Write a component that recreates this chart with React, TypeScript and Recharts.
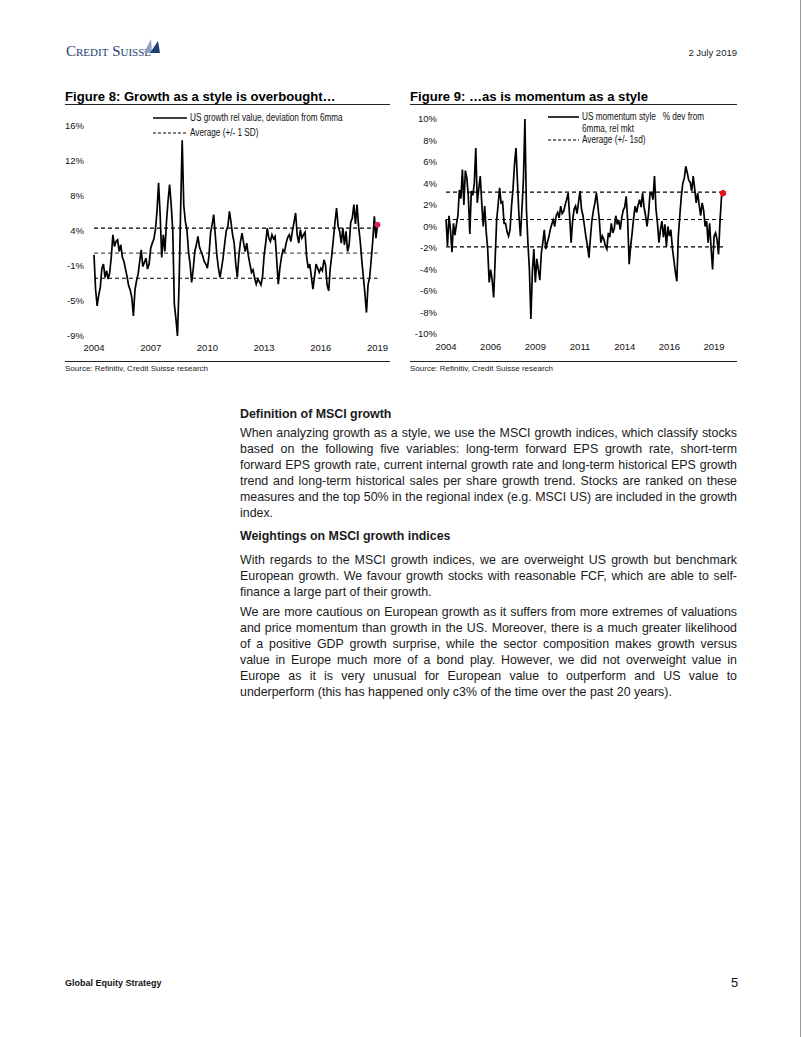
import React from 'react';
import { LineChart, Line, XAxis, YAxis, ReferenceLine, ReferenceDot } from 'recharts';

// Figure 8: US growth rel value, deviation from 6mma (monthly, from Jan 2004)
const growthStart = 2004;
const growthRel = [
  0.6, -3.5, -5.5, -4.2, -3.3, -1.0, -0.5, -2.1, -1.3, -2.3, -1.5, 0.4, // 2004
  3.0, 1.6, 2.2, 2.4, 1.0, 1.8, 0.3, -0.2, -1.1, -2.0, -3.1, -3.6, // 2005
  -4.5, -6.7, -3.6, -2.5, -1.7, -0.2, 1.2, -0.8, -0.3, 0.2, -1.1, -0.5, // 2006
  1.4, 2.0, 2.5, 3.6, 5.8, 9.2, 5.4, 0.3, 3.0, 1.0, 4.5, 7.0, // 2007
  9.0, 6.6, 3.5, -5.3, -7.0, -9.1, -3.0, 6.0, 14.3, 6.5, 4.6, 3.6, // 2008
  1.0, -0.5, -2.7, -1.1, 1.0, 1.8, 2.8, 1.5, 1.0, 0.5, -0.2, -0.5, // 2009
  -1.0, 0.5, 3.2, 4.2, 5.4, 3.0, 0.6, -1.0, -2.1, -1.0, 0.3, 2.0, // 2010
  3.5, 4.0, 5.8, 4.5, 3.0, 2.0, -0.5, -2.1, 0.5, 2.2, 3.2, 2.0, // 2011
  1.0, 2.0, 0.5, -0.5, -1.5, -1.2, -2.2, -2.9, -2.3, -2.6, -3.0, -2.0, // 2012
  0.5, 2.0, 3.8, 2.6, 2.2, 3.0, 2.5, 2.8, 0.0, -2.9, -1.0, 0.3, // 2013
  1.2, 1.0, 2.0, 2.7, 3.0, 2.2, 3.5, 4.5, 5.6, 3.0, 2.0, 3.6, // 2014
  2.6, 3.0, 3.3, 0.4, -1.0, -0.5, -2.0, -3.5, -2.0, -0.5, -1.0, -1.5, // 2015
  -1.0, -1.3, 0.0, -0.6, -3.0, -3.7, -1.0, 0.6, 2.5, 4.5, 6.2, 4.0, // 2016
  3.4, 2.0, 3.8, 1.8, 3.4, 1.0, 1.8, 4.5, 5.0, 6.6, 4.3, 6.6, // 2017
  4.0, 2.3, 0.0, -2.0, -4.0, -6.3, -3.0, -2.1, 0.0, 2.3, 5.2, 2.6, // 2018
  4.2, // 2019
];
const growthBands = [3.8, 0.8, -2.2]; // +1 SD, average, -1 SD
const growthXTicks = [2004, 2007, 2010, 2013, 2016, 2019];
const growthYTicks = [16, 11.83, 7.67, 3.5, -0.67, -4.83, -9];
const growthYLabels = ['16%', '12%', '8%', '4%', '-1%', '-5%', '-9%'];

// Figure 9: US momentum style % dev from 6mma, rel mkt (monthly, from Jan 2004)
const momentumStart = 2004;
const momentumRel = [
  0.65, -1.8, 1.0, -0.3, -2.4, 0.3, -0.8, 0.2, 1.0, 3.4, 2.6, 5.3, // 2004
  2.0, 5.2, 4.5, 2.8, -0.7, 3.3, 2.9, 4.0, 7.3, 2.2, 3.5, 4.7, // 2005
  2.2, 0.0, 1.9, -0.5, -2.1, -5.2, -4.0, -5.0, -6.6, -3.1, 0.6, 2.0, // 2006
  3.6, 2.2, 2.3, 0.3, 0.3, -0.5, -0.9, -0.3, 1.9, 3.5, 5.8, 7.3, // 2007
  4.1, 1.0, -0.9, 1.6, 4.4, 10.0, 1.6, -1.5, -4.0, -8.6, -4.2, -2.1, // 2008
  -5.2, -3.0, -4.0, -5.0, -2.5, -1.5, -0.3, -2.1, -1.5, -1.0, -0.3, 0.2, // 2009
  0.6, 0.0, 1.0, 1.3, 0.8, 1.9, 1.2, 1.4, 2.0, 2.5, 3.1, 1.0, // 2010
  -1.5, 0.5, 1.6, 1.9, 1.2, 2.3, 3.3, 1.6, 1.0, 0.0, -1.0, -1.8, // 2011
  -2.9, -1.0, 0.6, 1.5, 2.2, 3.1, 1.9, 0.5, -1.5, -0.9, -1.2, -1.8, // 2012
  -2.1, -0.6, -1.0, 0.3, -0.6, -0.2, 1.0, 0.2, 0.6, -0.3, 0.8, 1.5, // 2013
  1.8, 2.8, 0.5, -3.5, -1.8, -0.6, 0.8, 1.9, 1.3, 2.0, 2.5, 1.8, // 2014
  3.1, 1.8, 1.0, 0.0, 1.2, 3.1, 3.1, 2.5, 4.7, 1.6, 0.3, -1.5, // 2015
  -0.3, 0.5, -1.0, 0.2, -1.9, 0.0, -0.9, -0.3, -2.0, -3.1, -4.2, -5.1, // 2016
  -0.9, 1.0, 2.8, 4.0, 4.5, 5.6, 5.0, 4.3, 4.1, 3.3, 4.7, 3.5, // 2017
  2.2, 3.1, 2.0, 1.0, 2.2, 1.5, 0.0, 0.5, -1.5, 0.3, -2.0, -4.0, // 2018
  -0.9, -0.6, -1.2, -2.6, 0.5, 2.8, 3.1, // 2019
];
const momentumBands = [3.2, 0.65, -1.9];
const momentumXTicks = [2004, 2006.5, 2009, 2011.5, 2014, 2016.5, 2019];
const momentumXLabels = ['2004', '2006', '2009', '2011', '2014', '2016', '2019'];
const momentumYTicks = [10, 8, 6, 4, 2, 0, -2, -4, -6, -8, -10];

const FONT = '"Liberation Sans", Arial, Helvetica, sans-serif';
const tickStyle = { fontSize: 9.5, fill: '#111', fontFamily: FONT };

const toRows = (start: number, vals: number[]) =>
  vals.map((v, i) => ({ t: start + i / 12, v }));

const growthRows = toRows(growthStart, growthRel);
const momentumRows = toRows(momentumStart, momentumRel);

const Rule = ({ left, top, width }: { left: number; top: number; width: number }) => (
  <div style={{ position: 'absolute', left, top, width, height: 1, background: '#222' }} />
);

const LegendLine = ({ dashed, w }: { dashed?: boolean; w: number }) => (
  <svg width={w} height={6} style={{ verticalAlign: 'middle', marginRight: 3 }}>
    <line x1={0} x2={w} y1={3} y2={3} stroke="#000" strokeWidth={dashed ? 1.2 : 1.6}
      strokeDasharray={dashed ? '3 2' : undefined} />
  </svg>
);

// the original legend uses a condensed face: squeeze the text horizontally
const Narrow = ({ children }: { children: React.ReactNode }) => (
  <span style={{ display: 'inline-block', transform: 'scaleX(0.82)', transformOrigin: 'left center' }}>{children}</span>
);

const legendText: React.CSSProperties = {
  position: 'absolute', fontFamily: FONT, fontSize: 10, color: '#111', whiteSpace: 'nowrap', lineHeight: '11px',
};

const GrowthChart = () => {
  const last = growthRows[growthRows.length - 1];
  return (
    <LineChart width={330} height={250} data={growthRows} margin={{ top: 16, right: 12.5, bottom: 4, left: 0 }}>
      <XAxis type="number" dataKey="t" domain={[2004, 2019]} ticks={growthXTicks} axisLine={false}
        tickLine={false} tickSize={0} tickMargin={8} height={20} tick={tickStyle} interval={0} />
      <YAxis type="number" domain={[-9, 16]} ticks={growthYTicks} axisLine={false} tickLine={false}
        tickSize={0} tickMargin={10} width={34} tick={tickStyle} interval={0}
        tickFormatter={(_v: number, i: number) => growthYLabels[i]} />
      <ReferenceLine y={growthBands[0]} stroke="#000" strokeWidth={1.2} strokeDasharray="4 3" />
      <ReferenceLine y={growthBands[1]} stroke="#555" strokeWidth={1.2} strokeDasharray="4 3" />
      <ReferenceLine y={growthBands[2]} stroke="#000" strokeWidth={1.2} strokeDasharray="4 3" />
      <Line type="linear" dataKey="v" stroke="#000" strokeWidth={1.7} dot={false} isAnimationActive={false} />
      <ReferenceDot x={last.t} y={last.v} r={2.6} fill="#d0245e" stroke="#d0245e" />
    </LineChart>
  );
};

const MomentumChart = () => {
  const last = momentumRows[momentumRows.length - 1];
  return (
    <LineChart width={340} height={255} data={momentumRows} margin={{ top: 14, right: 17, bottom: 4, left: 0 }}>
      <XAxis type="number" dataKey="t" domain={[2004, 2019.5]} ticks={momentumXTicks} axisLine={false}
        tickLine={false} tickSize={0} tickMargin={9} height={22} tick={tickStyle} interval={0}
        tickFormatter={(_v: number, i: number) => momentumXLabels[i]} />
      <YAxis type="number" domain={[-10, 10]} ticks={momentumYTicks} axisLine={false} tickLine={false}
        tickSize={0} tickMargin={9} width={46} tick={tickStyle} interval={0}
        tickFormatter={(v: number) => `${v}%`} />
      <ReferenceLine y={momentumBands[0]} stroke="#000" strokeWidth={1.2} strokeDasharray="4 3" />
      <ReferenceLine y={momentumBands[1]} stroke="#000" strokeWidth={1.2} strokeDasharray="4 3" />
      <ReferenceLine y={momentumBands[2]} stroke="#000" strokeWidth={1.2} strokeDasharray="4 3" />
      <Line type="linear" dataKey="v" stroke="#000" strokeWidth={1.7} dot={false} isAnimationActive={false} />
      <ReferenceDot x={last.t} y={last.v} r={2.8} fill="#e8141c" stroke="#e8141c" />
    </LineChart>
  );
};

const para: React.CSSProperties = {
  position: 'absolute', left: 240, width: 497, fontFamily: FONT, fontSize: 12.4, lineHeight: '16px',
  color: '#1a1a1a', textAlign: 'justify', margin: 0,
};

export default function App() {
  return (
    <div style={{ position: 'absolute', left: 0, top: 0, width: 802, height: 1037, background: '#fff', fontFamily: FONT, overflow: 'hidden' }}>
      <div style={{ position: 'absolute', left: 800, top: 0, width: 1, height: 1037, background: '#9a9a9a' }} />

      {/* header */}
      <div style={{ position: 'absolute', left: 66, top: 43, fontFamily: '"Liberation Serif", serif', fontSize: 15, fontVariant: 'small-caps', color: '#1d3f72', lineHeight: '17px' }}>
        Credit Suisse
      </div>
      <svg style={{ position: 'absolute', left: 142, top: 37 }} width={22} height={18}>
        <path d="M2 16 L9 2 L10 16 Z" fill="#8aa4c8" />
        <path d="M8 16 L16 4 L18 16 Z" fill="#1d3f72" />
      </svg>
      <div style={{ position: 'absolute', right: 65, top: 47, fontSize: 9.5, color: '#222', lineHeight: '12px' }}>2 July 2019</div>

      {/* Figure 8 */}
      <div style={{ position: 'absolute', left: 65, top: 89, fontSize: 13.1, fontWeight: 'bold', color: '#000', whiteSpace: 'nowrap', lineHeight: '15px' }}>
        Figure 8: Growth as a style is overbought…
      </div>
      <Rule left={65} top={104} width={325} />
      <div style={{ position: 'absolute', left: 60, top: 110 }}>
        <GrowthChart />
      </div>
      <div style={{ ...legendText, left: 153, top: 112 }}><LegendLine w={34} /><Narrow>US growth rel value, deviation from 6mma</Narrow></div>
      <div style={{ ...legendText, left: 153, top: 127 }}><LegendLine dashed w={34} /><Narrow>Average (+/- 1 SD)</Narrow></div>
      <Rule left={65} top={361} width={325} />
      <div style={{ position: 'absolute', left: 65, top: 364, fontSize: 8, color: '#222', lineHeight: '10px' }}>Source: Refinitiv, Credit Suisse research</div>

      {/* Figure 9 */}
      <div style={{ position: 'absolute', left: 410, top: 89, fontSize: 13.1, fontWeight: 'bold', color: '#000', whiteSpace: 'nowrap', lineHeight: '15px' }}>
        Figure 9: …as is momentum as a style
      </div>
      <Rule left={410} top={104} width={327} />
      <div style={{ position: 'absolute', left: 400, top: 105 }}>
        <MomentumChart />
      </div>
      <div style={{ ...legendText, left: 548, top: 111 }}><LegendLine w={31} /><Narrow>US momentum style&nbsp;&nbsp;&nbsp;% dev from</Narrow></div>
      <div style={{ ...legendText, left: 582, top: 123 }}><Narrow>6mma, rel mkt</Narrow></div>
      <div style={{ ...legendText, left: 548, top: 134 }}><LegendLine dashed w={31} /><Narrow>Average (+/- 1sd)</Narrow></div>
      <Rule left={410} top={361} width={327} />
      <div style={{ position: 'absolute', left: 410, top: 364, fontSize: 8, color: '#222', lineHeight: '10px' }}>Source: Refinitiv, Credit Suisse research</div>

      {/* text */}
      <div style={{ ...para, top: 406, fontWeight: 'bold' }}>Definition of MSCI growth</div>
      <p style={{ ...para, top: 425 }}>
        When analyzing growth as a style, we use the MSCI growth indices, which classify stocks based on the following five variables: long-term forward EPS growth rate, short-term forward EPS growth rate, current internal growth rate and long-term historical EPS growth trend and long-term historical sales per share growth trend. Stocks are ranked on these measures and the top 50% in the regional index (e.g. MSCI US) are included in the growth index.
      </p>
      <div style={{ ...para, top: 528, fontWeight: 'bold' }}>Weightings on MSCI growth indices</div>
      <p style={{ ...para, top: 552 }}>
        With regards to the MSCI growth indices, we are overweight US growth but benchmark European growth. We favour growth stocks with reasonable FCF, which are able to self-finance a large part of their growth.
      </p>
      <p style={{ ...para, top: 604 }}>
        We are more cautious on European growth as it suffers from more extremes of valuations and price momentum than growth in the US. Moreover, there is a much greater likelihood of a positive GDP growth surprise, while the sector composition makes growth versus value in Europe much more of a bond play. However, we did not overweight value in Europe as it is very unusual for European value to outperform and US value to underperform (this has happened only c3% of the time over the past 20 years).
      </p>

      {/* footer */}
      <div style={{ position: 'absolute', left: 65, top: 977, fontSize: 9, fontWeight: 'bold', color: '#111', lineHeight: '12px' }}>Global Equity Strategy</div>
      <div style={{ position: 'absolute', left: 731, top: 975, fontSize: 13, color: '#111', lineHeight: '16px' }}>5</div>
    </div>
  );
}
